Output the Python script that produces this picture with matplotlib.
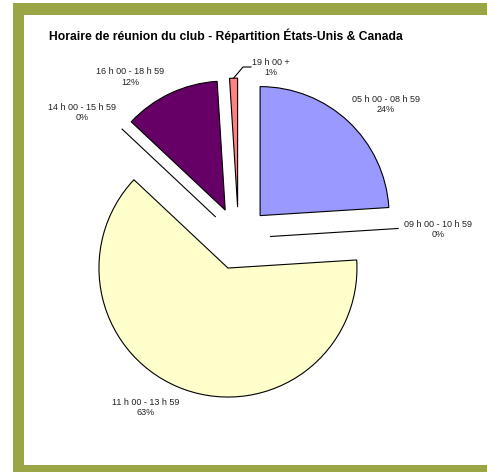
import numpy as np
import matplotlib.pyplot as plt
from matplotlib.patches import Rectangle

### Data
tranches = ["05 h 00 - 08 h 59", "09 h 00 - 10 h 59", "11 h 00 - 13 h 59",
            "14 h 00 - 15 h 59", "16 h 00 - 18 h 59", "19 h 00 +"]
pourcentages = [24, 0, 63, 0, 12, 1]
couleurs = ["#9999FF", "#FFFFCC", "#FFFFCC", "#FFFFCC", "#660066", "#FF8080"]

W, H = 487, 473
fig = plt.figure(figsize=(W / 100, H / 100), dpi=100)
ax = fig.add_axes([0, 0, 1, 1])

def py(y):                      # pixel row (from top) -> axis y
    return H - y

# olive frame
ax.add_patch(Rectangle((13, py(472)), 500, 469, facecolor="#9AA646", edgecolor="none", zorder=0))
ax.add_patch(Rectangle((24, py(465)), 500, 450, facecolor="white", edgecolor="none", zorder=0))

### Pie (explode is an absolute offset here, since radius is in pixels)
R = 129
centre = (238.6, py(238.5))
wedges, _ = ax.pie(pourcentages, colors=couleurs, startangle=90, counterclock=False,
                   explode=[31.4] * len(pourcentages), radius=R, center=centre,
                   wedgeprops=dict(edgecolor="black", linewidth=0.8))

### Labels
pos_labels = [(386, 104.5), (438, 229.5), (146, 407.5), (82, 112.5), (130, 77), (271, 67.5)]
for nom, val, (x, y) in zip(tranches, pourcentages, pos_labels):
    ax.text(x, py(y), f"{nom}\n{val}%", ha="center", va="center", fontsize=6.5,
            family="Liberation Sans", color="#222222", linespacing=1.2)

# leader line for the small slice
w = wedges[-1]
ang = np.deg2rad((w.theta1 + w.theta2) / 2)
x0 = w.center[0] + R * np.cos(ang)
y0 = w.center[1] + R * np.sin(ang)
ax.plot([x0, 243, 251], [y0, py(67), py(67)], color="black", linewidth=0.8)

ax.text(49, py(36), "Horaire de réunion du club - Répartition États-Unis & Canada",
        ha="left", va="center", fontsize=8.75, fontweight="bold", family="Liberation Sans")

ax.set_xlim(0, W)
ax.set_ylim(0, H)
ax.axis("off")

fig.savefig("out.png", dpi=100)
